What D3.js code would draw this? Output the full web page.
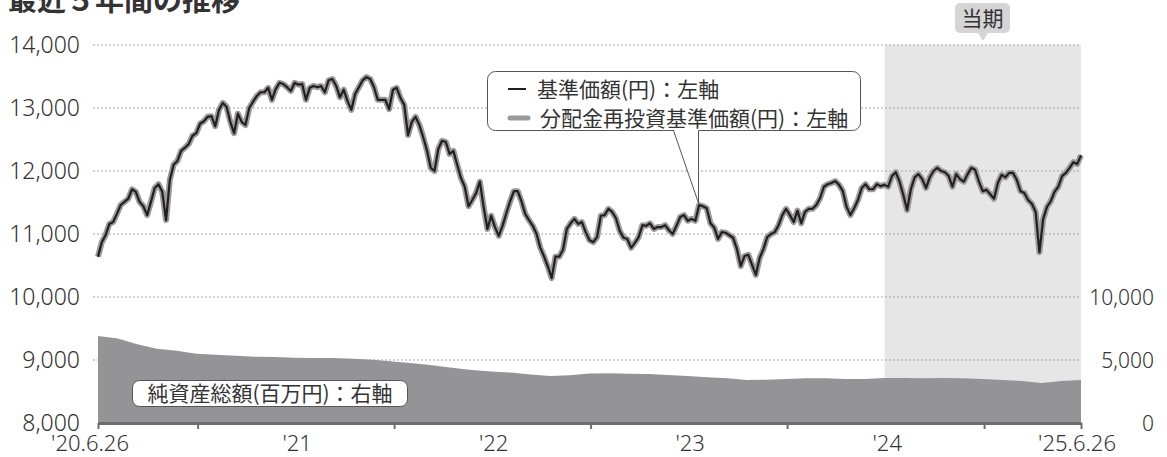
<!DOCTYPE html>
<html><head><meta charset="utf-8">
<script src="https://cdn.jsdelivr.net/npm/d3@7"></script>
<style>
body{margin:0;background:#fff}
svg{display:block}
text{font-family:"Noto Sans","Noto Sans CJK JP",sans-serif;fill:#333}
.cjk{font-family:"Noto Sans CJK JP",sans-serif}
</style>
</head><body>
<svg id="c" width="1167" height="457"></svg>
<script>
// ---- data ----
const startDate = "2020-06-26";
const endDate = "2025-06-26";
const periodStart = "2024-06-26";
// 基準価額 (円), roughly weekly, evenly spaced from start to end
const navValues = [
10640,10870,10980,11160,11190,11320,11460,11510,11560,11710,
11670,11510,11440,11300,11510,11730,11790,11670,11220,11860,
12100,12160,12320,12370,12430,12560,12600,12750,12790,12860,
12870,12710,12970,13080,13020,12780,12600,12910,12780,12730,
13000,13100,13190,13250,13250,13320,13130,13300,13400,13380,
13330,13270,13400,13370,13380,13130,13320,13350,13330,13350,
13250,13440,13460,13350,13170,13290,13110,12970,13220,13330,
13440,13490,13460,13330,13130,13130,13130,12980,13290,13320,
13160,13050,12570,12780,12860,12730,12540,12330,12050,12000,
12350,12480,12460,12270,12320,12100,11890,11750,11440,11540,
11650,11830,11430,11080,11290,11110,10970,11130,11330,11520,
11680,11680,11520,11320,11220,11130,11000,10780,10640,10480,
10300,10640,10640,10750,11080,11170,11240,11160,11190,11030,
10900,10870,10950,11290,11300,11400,11350,11250,11050,10940,
10920,10780,10860,10950,11140,11130,11170,11080,11110,11110,
11140,11060,11000,11130,11270,11300,11210,11240,11210,11460,
11440,11410,11170,11100,10920,11030,11020,10980,10940,10760,
10490,10650,10670,10510,10350,10620,10760,10950,11000,11030,
11140,11300,11400,11300,11190,11370,11170,11350,11400,11400,
11460,11570,11750,11790,11810,11840,11780,11680,11430,11300,
11410,11540,11730,11790,11710,11710,11790,11760,11780,11750,
11920,11980,11830,11620,11380,11710,11900,11950,11870,11730,
11900,12000,12050,12000,11980,11920,11750,11950,11870,11830,
11950,12050,12020,11830,11680,11700,11630,11560,11810,11940,
11900,11970,11970,11860,11680,11650,11540,11480,11350,10710,
11240,11430,11520,11670,11750,11920,11970,12050,12140,12110,
12250
];
// 純資産総額 (百万円), roughly monthly, evenly spaced
const assetValues = [
6900,6700,6250,5900,5730,5500,5420,5340,5260,5240,
5180,5160,5160,5100,5020,4880,4740,4580,4380,4200,
4080,4000,3850,3730,3780,3930,3950,3900,3880,3800,
3740,3640,3560,3420,3430,3500,3560,3560,3500,3500,
3570,3570,3560,3580,3560,3500,3420,3330,3170,3330,
3410
];
const leftTicks = [8000,9000,10000,11000,12000,13000,14000];
const rightTicks = [0,5000,10000];
const xTickDates = ["2020-06-26","2020-12-28","2021-12-28","2022-12-28","2023-12-28","2024-12-28","2025-06-26"];
const xLabelDates = ["2020-06-26","2021-07-01","2022-07-01","2023-07-01","2024-07-01","2025-06-26"];
const xLabelTexts = ["'20.6.26","'21","'22","'23","'24","'25.6.26"];
const titleText = "最近５年間の推移";
const legendTexts = ["基準価額(円)：左軸","分配金再投資基準価額(円)：左軸"];
const assetLabel = "純資産総額(百万円)：右軸";
const periodLabel = "当期";

// ---- chart ----
const parse = d3.timeParse("%Y-%m-%d");
const t0 = parse(startDate), t1 = parse(endDate);
const evenDates = n => d3.range(n).map(i => new Date(+t0 + (t1 - t0) * i / (n - 1)));
const nav = evenDates(navValues.length).map((d, i) => ({date: d, v: navValues[i]}));
const assets = evenDates(assetValues.length).map((d, i) => ({date: d, v: assetValues[i]}));

const svg = d3.select("#c");
const L = 98, R = 1081, T = 45, B = 423;
const x = d3.scaleTime().domain([t0, t1]).range([L, R]);
const yL = d3.scaleLinear().domain([8000, 14000]).range([B, T]);
const yR = d3.scaleLinear().domain([0, 30000]).range([B, T]);

// current period shade
svg.append("rect").attr("x", x(parse(periodStart))).attr("y", T)
  .attr("width", R - x(parse(periodStart))).attr("height", B - T).attr("fill", "#e6e6e7");

// grid
svg.append("g").selectAll("line").data(leftTicks.filter(d => d > 8000)).join("line")
  .attr("x1", 93).attr("x2", R).attr("y1", d => yL(d)).attr("y2", d => yL(d))
  .attr("stroke", "#a5a5a5").attr("stroke-width", 1).attr("stroke-dasharray", "2,2");

// net assets area
svg.append("path").datum(assets)
  .attr("d", d3.area().x(d => x(d.date)).y0(yR(0)).y1(d => yR(d.v)))
  .attr("fill", "#949496");

// reinvested NAV (grey halo) and NAV (black)
const line = d3.line().x(d => x(d.date)).y(d => yL(d.v));
svg.append("path").datum(nav).attr("d", line).attr("fill", "none")
  .attr("stroke", "#9b9b9b").attr("stroke-width", 6).attr("stroke-linejoin", "round");
svg.append("path").datum(nav).attr("d", line).attr("fill", "none")
  .attr("stroke", "#231f20").attr("stroke-width", 2.2).attr("stroke-linejoin", "round");

// bottom axis
const xAxis = d3.axisBottom(x).tickValues(xTickDates.map(parse)).tickSize(6).tickSizeOuter(0).tickFormat("");
const gx = svg.append("g").attr("transform", `translate(0,${B})`).call(xAxis);
gx.select(".domain").attr("stroke", "#6d6d6d").attr("stroke-width", 3);
gx.selectAll(".tick line").attr("stroke", "#6d6d6d").attr("stroke-width", 2);
svg.append("g").selectAll("text").data(xLabelDates).join("text")
  .attr("x", (d, i) => x(parse(d)) + (i === 0 ? -8 : i === xLabelDates.length - 1 ? -4 : 0))
  .attr("y", 451).attr("text-anchor", "middle").attr("font-size", 22).attr("font-weight", 300)
  .text((d, i) => xLabelTexts[i]);

// left axis
const gl = svg.append("g").attr("transform", `translate(80,0)`)
  .call(d3.axisLeft(yL).tickValues(leftTicks).tickFormat(d3.format(",")).tickSize(0));
gl.select(".domain").remove();
gl.selectAll("text").attr("font-size", 23).attr("font-weight", 300).attr("font-family", null)
  .attr("fill", "#333").attr("dy", "0.33em").attr("x", 0);

// right axis
const gr = svg.append("g").attr("transform", `translate(1154,0)`)
  .call(d3.axisLeft(yR).tickValues(rightTicks).tickFormat(d3.format(",")).tickSize(0));
gr.select(".domain").remove();
gr.selectAll("text").attr("font-size", 21).attr("font-weight", 300).attr("font-family", null)
  .attr("fill", "#333").attr("dy", "0.34em").attr("x", 0);

// title
svg.append("text").attr("class", "cjk").attr("x", 8).attr("y", 11)
  .attr("font-size", 29).attr("font-weight", "bold").attr("fill", "#231f20").text(titleText);

// period label
const pl = svg.append("g");
pl.append("path").attr("d", "M955,8 a5,5 0 0 1 5,-5 h45 a5,5 0 0 1 5,5 v20 a5,5 0 0 1 -5,5 h-17 l-5,8 l-5,-8 h-18 a5,5 0 0 1 -5,-5 z")
  .attr("fill", "#d5d5d6");
pl.append("text").attr("class", "cjk").attr("x", 982.5).attr("y", 26).attr("text-anchor", "middle")
  .attr("font-size", 21).attr("fill", "#231f20").text(periodLabel);

// legend callout
const lg = svg.append("g");
lg.append("rect").attr("x", 487.5).attr("y", 71.5).attr("width", 373).attr("height", 59).attr("rx", 8)
  .attr("fill", "#fff").attr("stroke", "#555").attr("stroke-width", 1);
lg.append("path").attr("d", "M673.5,129 L698.5,203 L698.5,129 Z").attr("fill", "#fff");
lg.append("path").attr("d", "M673.5,130.5 L698.5,203 L698.5,130.5").attr("fill", "none").attr("stroke", "#555").attr("stroke-width", 1);
lg.append("line").attr("x1", 508).attr("x2", 526).attr("y1", 89).attr("y2", 89).attr("stroke", "#231f20").attr("stroke-width", 2);
lg.append("line").attr("x1", 510).attr("x2", 528).attr("y1", 118).attr("y2", 118).attr("stroke", "#9b9b9b").attr("stroke-width", 5).attr("stroke-linecap", "round");
lg.selectAll("text.lt").data(legendTexts).join("text").attr("class", "cjk lt")
  .attr("x", (d, i) => i === 0 ? 537 : 540).attr("y", (d, i) => i === 0 ? 97 : 126)
  .attr("font-size", 21).attr("fill", "#231f20").text(d => d);

// asset label
const al = svg.append("g");
al.append("rect").attr("x", 132.5).attr("y", 380.5).attr("width", 275).attr("height", 26).attr("rx", 7)
  .attr("fill", "#fff").attr("stroke", "#555").attr("stroke-width", 1);
al.append("text").attr("class", "cjk").attr("x", 270).attr("y", 401).attr("text-anchor", "middle")
  .attr("font-size", 21).attr("fill", "#231f20").text(assetLabel);
</script>
</body></html>
